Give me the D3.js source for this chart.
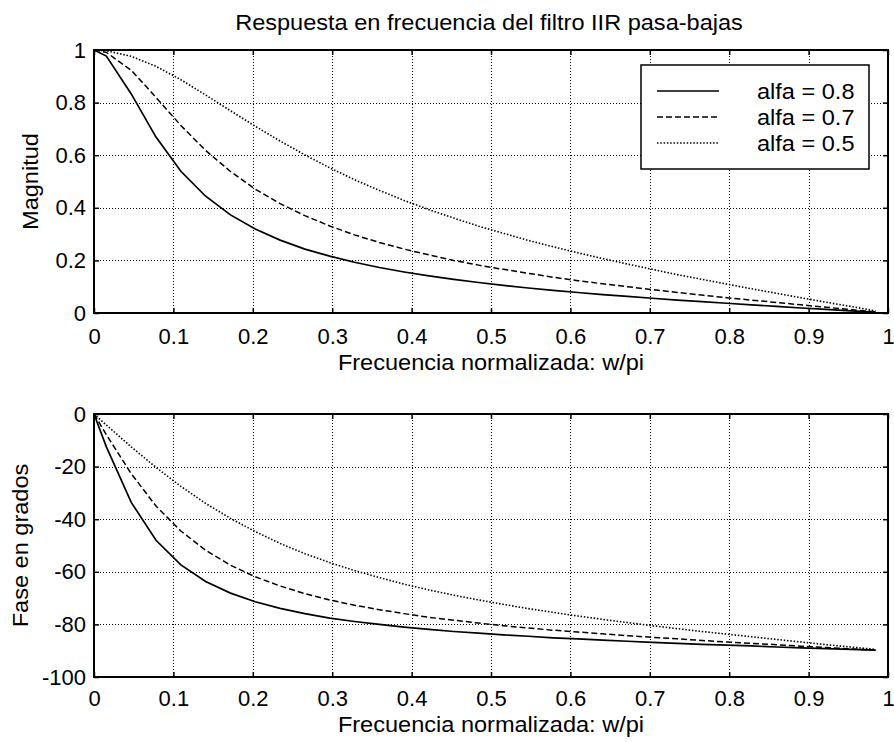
<!DOCTYPE html>
<html>
<head>
<meta charset="utf-8">
<script src="https://cdn.jsdelivr.net/npm/d3@7"></script>
<style>
  body { margin: 0; background: #fff; }
  svg { display: block; font-family: "Liberation Sans", Arial, sans-serif; }
</style>
</head>
<body>
<svg width="894" height="742"></svg>
<script>
// normalized frequency w/pi
const freq = [0, 0.0156, 0.0469, 0.0781, 0.1094, 0.1406, 0.1719, 0.2031, 0.2344, 0.2656, 0.2969,
	0.3281, 0.3594, 0.3906, 0.4219, 0.4531, 0.4844, 0.5156, 0.5469, 0.5781, 0.6094, 0.6406,
	0.6719, 0.7031, 0.7344, 0.7656, 0.7969, 0.8281, 0.8594, 0.8906, 0.9219, 0.9531, 0.9844];

// magnitude
const mag08 = [1, 0.977, 0.833, 0.669, 0.539, 0.444, 0.373, 0.319, 0.277, 0.243, 0.216,
	0.193, 0.173, 0.156, 0.141, 0.128, 0.116, 0.105, 0.095, 0.086, 0.078, 0.070,
	0.063, 0.056, 0.049, 0.043, 0.037, 0.031, 0.025, 0.019, 0.014, 0.008, 0.003];
const mag07 = [1, 0.991, 0.923, 0.820, 0.713, 0.618, 0.538, 0.471, 0.416, 0.370, 0.331,
	0.297, 0.268, 0.243, 0.221, 0.200, 0.182, 0.166, 0.151, 0.136, 0.123, 0.111,
	0.100, 0.089, 0.078, 0.068, 0.058, 0.049, 0.040, 0.031, 0.022, 0.013, 0.004];
const mag05 = [1, 0.997, 0.976, 0.938, 0.887, 0.829, 0.769, 0.710, 0.654, 0.601, 0.552,
	0.507, 0.466, 0.428, 0.393, 0.361, 0.330, 0.303, 0.276, 0.252, 0.229, 0.207,
	0.186, 0.166, 0.146, 0.128, 0.110, 0.092, 0.075, 0.058, 0.041, 0.025, 0.008];

// phase (degrees)
const phase08 = [0, -12.5, -33.6, -48.0, -57.4, -63.7, -68.1, -71.4, -73.9, -75.9, -77.6,
	-78.9, -80.0, -81.0, -81.9, -82.7, -83.3, -84.0, -84.5, -85.1, -85.5, -86.0,
	-86.4, -86.8, -87.2, -87.6, -87.9, -88.2, -88.6, -88.9, -89.2, -89.5, -89.8];
const phase07 = [0, -7.9, -22.7, -35.0, -44.5, -51.8, -57.5, -61.9, -65.4, -68.3, -70.7,
	-72.7, -74.4, -75.9, -77.3, -78.4, -79.5, -80.5, -81.4, -82.2, -82.9, -83.6,
	-84.3, -84.9, -85.5, -86.1, -86.7, -87.2, -87.7, -88.3, -88.8, -89.3, -89.8];
const phase05 = [0, -4.2, -12.5, -20.3, -27.5, -34.0, -39.7, -44.7, -49.2, -53.1, -56.5,
	-59.5, -62.2, -64.7, -66.9, -68.9, -70.7, -72.4, -74.0, -75.4, -76.8, -78.1,
	-79.3, -80.5, -81.6, -82.7, -83.7, -84.7, -85.7, -86.7, -87.7, -88.6, -89.5];

const legendLabels = ["alfa = 0.8", "alfa = 0.7", "alfa = 0.5"];
const xTicks = [0, 0.1, 0.2, 0.3, 0.4, 0.5, 0.6, 0.7, 0.8, 0.9, 1];
const magTicks = [0, 0.2, 0.4, 0.6, 0.8, 1];
const phaseTicks = [-100, -80, -60, -40, -20, 0];

const title = "Respuesta en frecuencia del filtro IIR pasa-bajas";
const xLabel = "Frecuencia normalizada: w/pi";

const svg = d3.select("svg");
const FONT = 22;
const LABEL_K = 1.07;
const dashes = [null, "6,3", "1.5,1.8"];
const widths = [1.7, 1.5, 1.6];

const x = d3.scaleLinear().domain([0, 1]).range([94, 888]);
const yMag = d3.scaleLinear().domain([0, 1]).range([313, 50]);
const yPh = d3.scaleLinear().domain([-100, 0]).range([677, 414]);

function stretch(sel, k) {
	sel.each(function () {
		const w = this.getComputedTextLength();
		d3.select(this).attr("textLength", w * k).attr("lengthAdjust", "spacingAndGlyphs");
	});
}

function panel(y, yTicks, series, yLabel, yLabelX, tickDy, xLabelDy) {
	const [bottom, top] = y.range();
	const [left, right] = x.range();

	// dotted grid
	const gx = svg.append("g").attr("transform", `translate(0,${top})`)
		.call(d3.axisBottom(x).tickValues(xTicks).tickSize(bottom - top).tickFormat(""));
	const gy = svg.append("g").attr("transform", `translate(${left},0)`)
		.call(d3.axisLeft(y).tickValues(yTicks).tickSize(-(right - left)).tickFormat(""));
	[gx, gy].forEach((g) => {
		g.select(".domain").remove();
		g.selectAll("line")
			.attr("stroke", "#000").attr("stroke-width", 1)
			.attr("stroke-dasharray", "1,2").attr("shape-rendering", "crispEdges");
	});

	// curves
	const line = d3.line().x((d) => x(d[0])).y((d) => y(d[1]));
	series.forEach((vals, i) => {
		svg.append("path")
			.datum(freq.map((f, j) => [f, vals[j]]))
			.attr("fill", "none")
			.attr("stroke", "#000")
			.attr("stroke-width", widths[i])
			.attr("stroke-dasharray", dashes[i])
			.attr("d", line);
	});

	// inward ticks on all four sides
	const fmt = (d) => String(d);
	const ab = svg.append("g").attr("transform", `translate(0,${bottom})`)
		.call(d3.axisBottom(x).tickValues(xTicks).tickSize(-5).tickFormat(fmt));
	ab.selectAll("text").attr("y", tickDy).attr("dy", null);
	const at = svg.append("g").attr("transform", `translate(0,${top})`)
		.call(d3.axisTop(x).tickValues(xTicks).tickSize(-5).tickFormat(""));
	const al = svg.append("g").attr("transform", `translate(${left},0)`)
		.call(d3.axisLeft(y).tickValues(yTicks).tickSize(-5).tickPadding(8).tickFormat(fmt));
	const ar = svg.append("g").attr("transform", `translate(${right},0)`)
		.call(d3.axisRight(y).tickValues(yTicks).tickSize(-5).tickFormat(""));
	[ab, at, al, ar].forEach((g) => {
		g.select(".domain").remove();
		g.selectAll("line").attr("stroke", "#000").attr("stroke-width", 1.5);
		g.selectAll("text").attr("font-size", FONT).attr("font-family", null).attr("fill", "#000");
	});

	// box
	svg.append("rect")
		.attr("x", left).attr("y", top)
		.attr("width", right - left).attr("height", bottom - top)
		.attr("fill", "none").attr("stroke", "#000").attr("stroke-width", 2);

	// axis labels
	const xl = svg.append("text")
		.attr("x", (left + right) / 2).attr("y", bottom + xLabelDy)
		.attr("text-anchor", "middle").attr("font-size", FONT)
		.text(xLabel);
	stretch(xl, LABEL_K);
	const yl = svg.append("text")
		.attr("transform", `translate(${yLabelX},${(top + bottom) / 2}) rotate(-90)`)
		.attr("text-anchor", "middle").attr("font-size", FONT)
		.text(yLabel);
	stretch(yl, LABEL_K);
}

panel(yMag, magTicks, [mag08, mag07, mag05], "Magnitud", 38, 31, 57);
panel(yPh, phaseTicks, [phase08, phase07, phase05], "Fase en grados", 28, 29, 55);

// title
const t = svg.append("text")
	.attr("x", 489).attr("y", 30)
	.attr("text-anchor", "middle").attr("font-size", FONT)
	.text(title);
stretch(t, LABEL_K);

// legend
const lg = svg.append("g");
lg.append("rect")
	.attr("x", 641).attr("y", 65).attr("width", 228).attr("height", 104)
	.attr("fill", "#fff").attr("stroke", "#000").attr("stroke-width", 1.5);
legendLabels.forEach((lab, i) => {
	const yy = 91 + i * 26;
	lg.append("line")
		.attr("x1", 657).attr("x2", 719).attr("y1", yy).attr("y2", yy)
		.attr("stroke", "#000").attr("stroke-width", widths[i])
		.attr("stroke-dasharray", dashes[i]);
	const tx = lg.append("text")
		.attr("x", 757).attr("y", yy + 8)
		.attr("font-size", FONT)
		.text(lab);
	stretch(tx, LABEL_K);
});
</script>
</body>
</html>
